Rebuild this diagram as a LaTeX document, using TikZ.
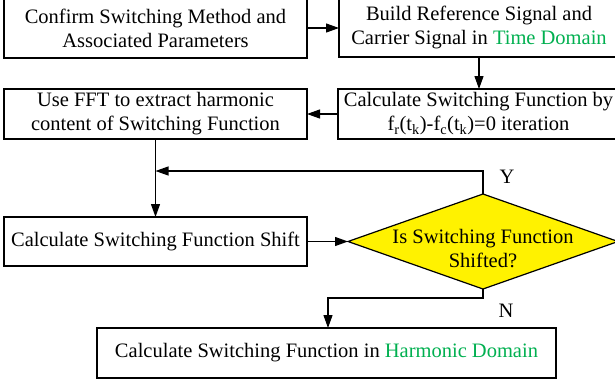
\documentclass[tikz,border=0pt]{standalone}
\usepackage{fontspec}
\setmainfont{Liberation Serif}
\usetikzlibrary{arrows.meta,shapes.geometric}
\definecolor{dgreen}{RGB}{0,176,80}
\begin{document}
\begin{tikzpicture}[x=1pt,y=-1pt,
  every node/.style={font=\fontsize{20.5}{24}\selectfont},
  box/.style={draw=black,line width=1.2pt,fill=white,align=center,inner sep=0pt,outer sep=0pt},
  arr/.style={line width=1.2pt,-{Triangle[length=13pt,width=9pt]}},
  ln/.style={line width=1.2pt}]
\useasboundingbox (0,0) rectangle (615,381);
\node[box,minimum width=303pt,minimum height=60pt] (A) at (155.5,28) {Confirm Switching Method and\\Associated Parameters};
\node[box,minimum width=280pt,minimum height=59pt] (B) at (479,27.5) {Build Reference Signal and\\Carrier Signal in \textcolor{dgreen}{Time Domain}};
\node[box,minimum width=281pt,minimum height=50pt] (C) at (478.5,114) {Calculate Switching Function by\\f\textsubscript{r}(t\textsubscript{k})-f\textsubscript{c}(t\textsubscript{k})=0 iteration};
\node[box,minimum width=303pt,minimum height=50pt] (D) at (155.5,114) {Use FFT to extract harmonic\\content of Switching Function};
\node[box,minimum width=303pt,minimum height=49pt] (E) at (155.5,241.5) {Calculate Switching Function Shift};
\node[diamond,draw=black,fill=yellow,line width=1.2pt,inner sep=0pt,outer sep=0pt,minimum width=270pt,minimum height=95pt] (dec) at (483,241.5) {};
\node[align=center] (dectext) at (483,249) {Is Switching Function\\Shifted?};
\node[box,minimum width=459pt,minimum height=50pt] (F) at (326.5,353) {Calculate Switching Function in \textcolor{dgreen}{Harmonic Domain}};
\node (Y) at (507,177) {Y};
\node (N) at (506,311) {N};
\coordinate (j) at (155.5,171);
\coordinate (k) at (328,298);
\draw[arr] (A.east) -- (A.east -| B.west);
\draw[arr] (B.south) -- (B.south |- C.north);
\draw[arr] (C.west) -- (C.west -| D.east);
\draw[arr] (D.south) -- (E.north);
\draw[arr] (dec.north) |- (j);
\draw[arr] (E.east) -- (dec.west);
\draw[arr] (dec.south) |- (k) -- (k |- F.north);
\end{tikzpicture}
\end{document}
